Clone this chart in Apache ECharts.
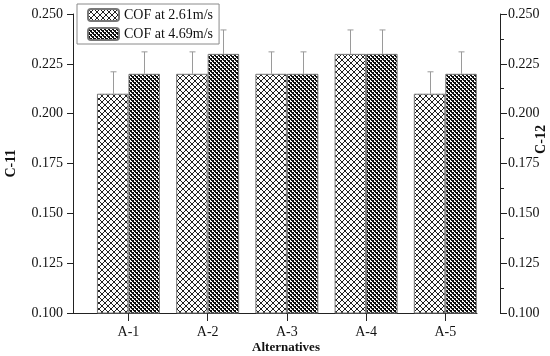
<!DOCTYPE html>
<html>
<head>
<meta charset="utf-8">
<script src="https://cdn.jsdelivr.net/npm/echarts@6/dist/echarts.min.js"></script>
<style>html,body{margin:0;padding:0;background:#fff;}#c{width:550px;height:356px;}</style>
</head>
<body>
<div id="c"></div>
<script>
const categories = ['A-1', 'A-2', 'A-3', 'A-4', 'A-5'];
const seriesNames = ['COF at 2.61m/s', 'COF at 4.69m/s'];
const cofLow = [0.21, 0.22, 0.22, 0.23, 0.21];
const cofHigh = [0.22, 0.23, 0.22, 0.23, 0.22];
const errLow = [0.011, 0.011, 0.011, 0.012, 0.011];
const errHigh = [0.011, 0.012, 0.011, 0.012, 0.011];
const yTicks = [0.100, 0.125, 0.150, 0.175, 0.200, 0.225, 0.250];

const FONT = "'Liberation Serif', 'Times New Roman', serif";
const BAR_W = 31.5;

function makeLight() {
  const n = 6;
  const c = document.createElement('canvas');
  c.width = n; c.height = n;
  const g = c.getContext('2d');
  g.fillStyle = '#fff'; g.fillRect(0, 0, n, n);
  g.fillStyle = '#222';
  for (let i = 0; i < n; i++) {
    g.fillRect(i, i, 1, 1);
    g.fillRect(n - 1 - i, i, 1, 1);
  }
  return c;
}
function makeDark() {
  const c = document.createElement('canvas');
  c.width = 4; c.height = 4;
  const g = c.getContext('2d');
  g.fillStyle = '#fff'; g.fillRect(0, 0, 4, 4);
  g.fillStyle = '#111';
  g.fillRect(0, 0, 2, 2);
  g.fillRect(2, 2, 2, 2);
  g.fillRect(1, 2, 1, 1);
  g.fillRect(3, 0, 1, 1);
  return c;
}
const lightPat = { image: makeLight(), repeat: 'repeat' };
const darkPat = { image: makeDark(), repeat: 'repeat' };

const pos = categories.map((c, i) => i + 1);
const barLow = pos.map((p, i) => [p, cofLow[i]]);
const barHigh = pos.map((p, i) => [p, cofHigh[i]]);
const errLowData = pos.map((p, i) => [p, cofLow[i], errLow[i]]);
const errHighData = pos.map((p, i) => [p, cofHigh[i], errHigh[i]]);

function errRender(dx) {
  return function (params, api) {
    const x = api.value(0), y = api.value(1), e = api.value(2);
    const p0 = api.coord([x, y]);
    const p1 = api.coord([x, y + e]);
    const cx = Math.round(p0[0] + dx) + 0.5;
    const st = { stroke: '#9a9a9a', lineWidth: 1 };
    return {
      type: 'group',
      children: [
        { type: 'line', shape: { x1: cx, y1: p0[1], x2: cx, y2: p1[1] }, style: st },
        { type: 'line', shape: { x1: cx - 3, y1: p1[1], x2: cx + 3, y2: p1[1] }, style: st }
      ]
    };
  };
}

const axisLabelStyle = { color: '#111', fontFamily: FONT, fontSize: 14 };
const lineStyle = { color: '#222', width: 1 };

const chart = echarts.init(document.getElementById('c'), null, { renderer: 'canvas' });
chart.setOption({
  animation: false,
  backgroundColor: '#fff',
  grid: { left: 73, right: 73, top: 14, bottom: 43, containLabel: false, outerBoundsMode: 'none' },
  legend: {
    data: seriesNames,
    orient: 'vertical',
    left: 77, top: 4,
    padding: [4, 6, 3, 10],
    itemWidth: 31, itemHeight: 12, itemGap: 5,
    borderColor: '#8a8a8a', borderWidth: 1,
    textStyle: { color: '#111', fontFamily: FONT, fontSize: 14 }
  },
  xAxis: {
    type: 'value', min: 0.3, max: 5.4,
    name: 'Alternatives', nameLocation: 'middle', nameGap: 28, nameMoveOverlap: false,
    nameTextStyle: { color: '#111', fontFamily: FONT, fontSize: 13, fontWeight: 'bold', padding: [0, 0, 0, 22] },
    axisLine: { show: true, lineStyle: lineStyle },
    axisTick: { show: true, length: 8, lineStyle: lineStyle, customValues: pos },
    axisLabel: Object.assign({ margin: 12, customValues: pos, formatter: v => categories[Math.round(v) - 1] }, axisLabelStyle),
    splitLine: { show: false }
  },
  yAxis: [
    {
      type: 'value', position: 'left', min: 0.1, max: 0.25, interval: 0.025,
      name: 'C-11', nameLocation: 'middle', nameGap: 55, nameRotate: 90, nameMoveOverlap: false,
      nameTextStyle: { color: '#111', fontFamily: FONT, fontSize: 14, fontWeight: 'bold' },
      axisLine: { show: true, lineStyle: lineStyle },
      axisTick: { show: true, length: 6, lineStyle: lineStyle },
      axisLabel: Object.assign({ margin: 10, formatter: v => v.toFixed(3) }, axisLabelStyle),
      splitLine: { show: false }
    },
    {
      type: 'value', position: 'right', offset: 23, min: 0.1, max: 0.25, interval: 0.025,
      name: 'C-12', nameLocation: 'middle', nameGap: 34, nameRotate: 90, nameMoveOverlap: false,
      nameTextStyle: { color: '#111', fontFamily: FONT, fontSize: 14, fontWeight: 'bold', padding: [0, 0, 0, 48] },
      axisLine: { show: true, lineStyle: lineStyle },
      axisTick: { show: true, length: 7, lineStyle: lineStyle },
      minorTick: { show: true, splitNumber: 2, length: 4, lineStyle: lineStyle },
      axisLabel: Object.assign({ margin: 8, formatter: v => v.toFixed(3) }, axisLabelStyle),
      splitLine: { show: false }
    }
  ],
  series: [
    {
      name: seriesNames[0], type: 'bar', data: barLow, barWidth: BAR_W, barGap: '0%',
      itemStyle: { color: lightPat, borderColor: '#777', borderWidth: 1 }, z: 2
    },
    {
      name: seriesNames[1], type: 'bar', data: barHigh, barWidth: BAR_W, barGap: '0%',
      itemStyle: { color: darkPat, borderColor: '#777', borderWidth: 1 }, z: 2
    },
    { type: 'custom', data: errLowData, renderItem: errRender(-BAR_W / 2), z: 5, silent: true },
    { type: 'custom', data: errHighData, renderItem: errRender(BAR_W / 2), z: 5, silent: true }
  ]
});
</script>
</body>
</html>
